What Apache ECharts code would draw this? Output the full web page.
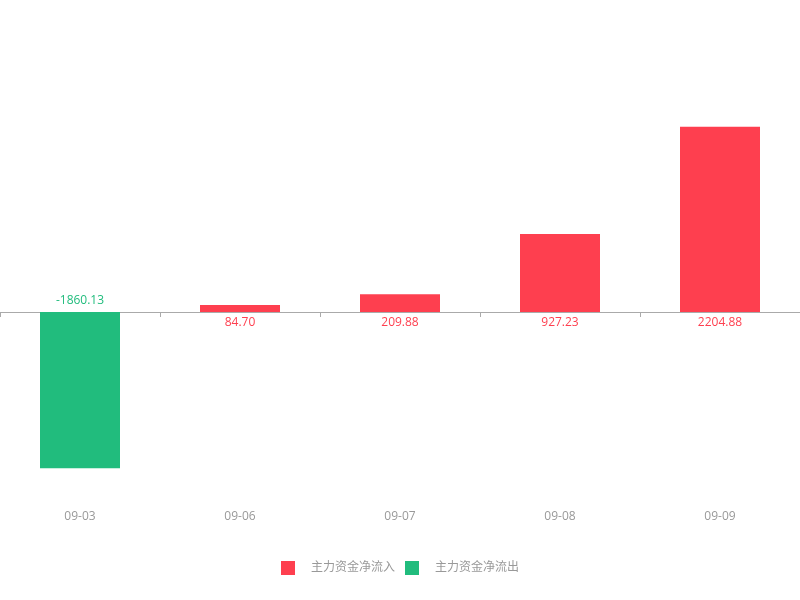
<!DOCTYPE html>
<html><head><meta charset="utf-8">
<script src="https://cdn.jsdelivr.net/npm/echarts@6/dist/echarts.min.js"></script>
<style>html,body{margin:0;padding:0;background:#fff}#c{width:800px;height:600px}</style>
</head><body><div id="c"></div>
<script>
var categories = ['09-03', '09-06', '09-07', '09-08', '09-09'];
var inflow = ['-', 84.70, 209.88, 927.23, 2204.88];
var outflow = [-1860.13, '-', '-', '-', '-'];
var seriesNames = ['主力资金净流入', '主力资金净流出'];

var RED = '#fe3f4f', GREEN = '#21bc7d';
var FONT = '"Open Sans", "Noto Sans CJK SC", sans-serif';
var chart = echarts.init(document.getElementById('c'));
chart.setOption({
  animation: false,
  textStyle: { fontFamily: FONT },
  grid: { left: 0, right: 0, top: 60, bottom: 120 },
  legend: {
    bottom: 20, left: 'center', itemWidth: 14, itemHeight: 14, itemGap: 10,
    textStyle: { color: '#999', fontSize: 12, fontFamily: FONT, padding: [0, 0, 0, 11] },
    data: [{ name: seriesNames[0], icon: 'rect' }, { name: seriesNames[1], icon: 'rect' }]
  },
  xAxis: [{
    type: 'category', data: categories, position: 'bottom',
    axisLine: { onZero: true, lineStyle: { color: '#aaa' } },
    axisTick: { show: true, length: 5, lineStyle: { color: '#aaa' } },
    axisLabel: { show: false }
  }, {
    type: 'category', data: categories, position: 'bottom',
    axisLine: { show: false, onZero: false }, axisTick: { show: false },
    axisLabel: { color: '#999', fontSize: 12, fontFamily: FONT, margin: 31 }
  }],
  yAxis: { type: 'value', min: -2000, max: 3000, show: false },
  series: [{
    name: seriesNames[0], type: 'bar', stack: 's', barWidth: '50%', data: inflow,
    itemStyle: { color: RED },
    label: { show: true, position: 'bottom', distance: 5, color: RED, fontSize: 12, fontFamily: FONT,
      formatter: function (p) { return p.value.toFixed(2); } }
  }, {
    name: seriesNames[1], type: 'bar', stack: 's', barWidth: '50%', data: outflow,
    itemStyle: { color: GREEN },
    label: { show: true, position: 'top', distance: 5, color: GREEN, fontSize: 12, fontFamily: FONT,
      formatter: function (p) { return p.value.toFixed(2); } }
  }]
});
</script></body></html>
